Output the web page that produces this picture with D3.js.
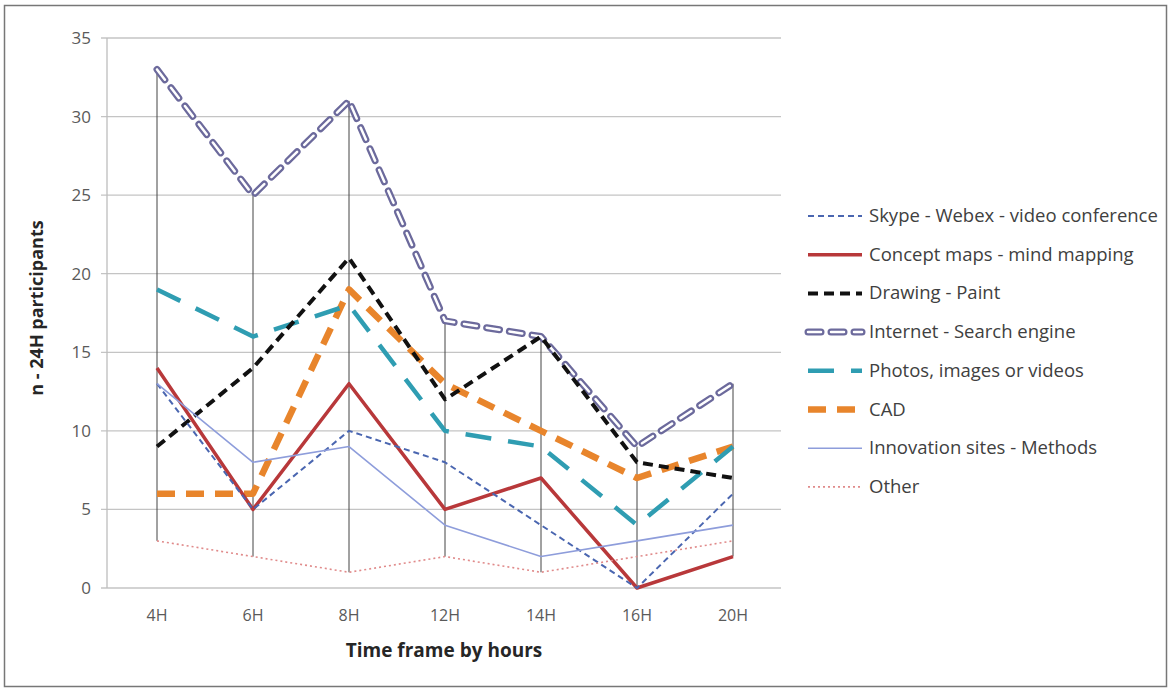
<!DOCTYPE html>
<html>
<head>
<meta charset="utf-8">
<script src="https://cdn.jsdelivr.net/npm/d3@7"></script>
<style>
  html, body { margin: 0; padding: 0; background: #fff; }
  svg { display: block; font-family: "Open Sans", Lato, sans-serif; }
</style>
</head>
<body>
<div id="chart"></div>
<script>
const categories = ["4H", "6H", "8H", "12H", "14H", "16H", "20H"];

const seriesNames = [
    "Skype - Webex - video conference",
    "Concept maps - mind mapping",
    "Drawing - Paint",
    "Internet - Search engine",
    "Photos, images or videos",
    "CAD",
    "Innovation sites - Methods",
    "Other"
];

const skype      = [13, 5, 10, 8, 4, 0, 6];
const conceptMap = [14, 5, 13, 5, 7, 0, 2];
const drawing    = [9, 14, 21, 12, 16, 8, 7];
const internet   = [33, 25, 31, 17, 16, 9, 13];
const photos     = [19, 16, 18, 10, 9, 4, 9];
const cad        = [6, 6, 19, 13, 10, 7, 9];
const innovation = [13, 8, 9, 4, 2, 3, 4];
const other      = [3, 2, 1, 2, 1, 2, 3];

const yTicks = [0, 5, 10, 15, 20, 25, 30, 35];

const W = 1176, H = 690;
const plot = {left: 107, right: 781, top: 38, bottom: 588};

// line styles per series (same order as seriesNames)
const styles = [
    {color: "#4a66b0", width: 2, dash: "6,4"},
    {color: "#b8383a", width: 3.5, dash: null},
    {color: "#111111", width: 4, dash: "10,6"},
    {color: "#6c6a9c", width: 7, dash: "13,10", outline: true},
    {color: "#2f9db2", width: 4.5, dash: "26,17"},
    {color: "#e8852c", width: 6.5, dash: "18,11"},
    {color: "#8e9ddb", width: 1.6, dash: null},
    {color: "#e08a8a", width: 1.6, dash: "2,3"}
];

const allSeries = [skype, conceptMap, drawing, internet, photos, cad, innovation, other];

const svg = d3.select("#chart").append("svg")
    .attr("width", W)
    .attr("height", H);

svg.append("rect")
    .attr("x", 4.5).attr("y", 5.5)
    .attr("width", 1162).attr("height", 681)
    .attr("fill", "#fff")
    .attr("stroke", "#777")
    .attr("stroke-width", 1.5);

const x = d3.scalePoint()
    .domain(categories)
    .range([plot.left + 2, plot.right])
    .padding(0.5);

const y = d3.scaleLinear()
    .domain([0, 35])
    .range([plot.bottom, plot.top]);

// gridlines
svg.append("g")
    .selectAll("line")
    .data(yTicks)
    .enter().append("line")
    .attr("x1", plot.left - 6)
    .attr("x2", plot.right)
    .attr("y1", d => y(d))
    .attr("y2", d => y(d))
    .attr("stroke", "#c4c4c4")
    .attr("stroke-width", 1.3);

// left axis line
svg.append("line")
    .attr("x1", plot.left).attr("x2", plot.left)
    .attr("y1", plot.top).attr("y2", plot.bottom)
    .attr("stroke", "#bdbdbd")
    .attr("stroke-width", 1.3);

// y tick labels
svg.append("g")
    .selectAll("text")
    .data(yTicks)
    .enter().append("text")
    .attr("x", 91)
    .attr("y", d => y(d) + 6)
    .attr("text-anchor", "end")
    .attr("font-size", 17)
    .attr("fill", "#5a5a5a")
    .text(d => d);

// x tick labels
svg.append("g")
    .selectAll("text")
    .data(categories)
    .enter().append("text")
    .attr("x", d => x(d))
    .attr("y", 621)
    .attr("text-anchor", "middle")
    .attr("font-size", 16)
    .attr("fill", "#5a5a5a")
    .text(d => d);

// axis titles
svg.append("text")
    .attr("x", 444)
    .attr("y", 657)
    .attr("text-anchor", "middle")
    .attr("font-size", 19)
    .attr("font-weight", "bold")
    .attr("fill", "#262626")
    .text("Time frame by hours");

svg.append("text")
    .attr("transform", "translate(43,308) rotate(-90)")
    .attr("text-anchor", "middle")
    .attr("font-size", 18)
    .attr("font-weight", "bold")
    .attr("fill", "#262626")
    .text("n - 24H participants");

// high-low drop lines at each category
const drops = categories.map(function(c, i){
    let vals = allSeries.map(s => s[i]);
    return {cat: c, hi: d3.max(vals), lo: d3.min(vals)};
});

svg.append("g")
    .selectAll("line")
    .data(drops)
    .enter().append("line")
    .attr("x1", d => x(d.cat))
    .attr("x2", d => x(d.cat))
    .attr("y1", d => y(d.hi))
    .attr("y2", d => y(d.lo))
    .attr("stroke", "#444")
    .attr("stroke-width", 1);

const line = d3.line()
    .x((d, i) => x(categories[i]))
    .y(d => y(d));

// draw series from back to front: thin ones on top of thick ones like the picture
const drawOrder = [3, 5, 4, 2, 1, 0, 6, 7];

function drawStroke(g, pathD, st){
    g.append("path")
        .attr("d", pathD)
        .attr("fill", "none")
        .attr("stroke", st.color)
        .attr("stroke-width", st.width)
        .attr("stroke-dasharray", st.dash)
        .attr("stroke-linecap", st.outline ? "round" : "butt")
        .attr("stroke-linejoin", "round");
    if(st.outline){
        g.append("path")
            .attr("d", pathD)
            .attr("fill", "none")
            .attr("stroke", "#fff")
            .attr("stroke-width", st.width - 4.5)
            .attr("stroke-dasharray", st.dash)
            .attr("stroke-linecap", "round")
            .attr("stroke-linejoin", "round");
    }
}

const linesG = svg.append("g");
drawOrder.forEach(function(i){
    drawStroke(linesG, line(allSeries[i]), styles[i]);
});

// legend
const legendTop = 216;
const legendStep = 38.7;
const legend = svg.append("g");

seriesNames.forEach(function(name, i){
    let ly = legendTop + i * legendStep;
    let sample = d3.line()([[808, ly], [862, ly]]);
    drawStroke(legend, sample, styles[i]);
    legend.append("text")
        .attr("x", 869)
        .attr("y", ly + 6)
        .attr("font-size", 18.5)
        .attr("fill", "#404040")
        .text(name);
});
</script>
</body>
</html>
